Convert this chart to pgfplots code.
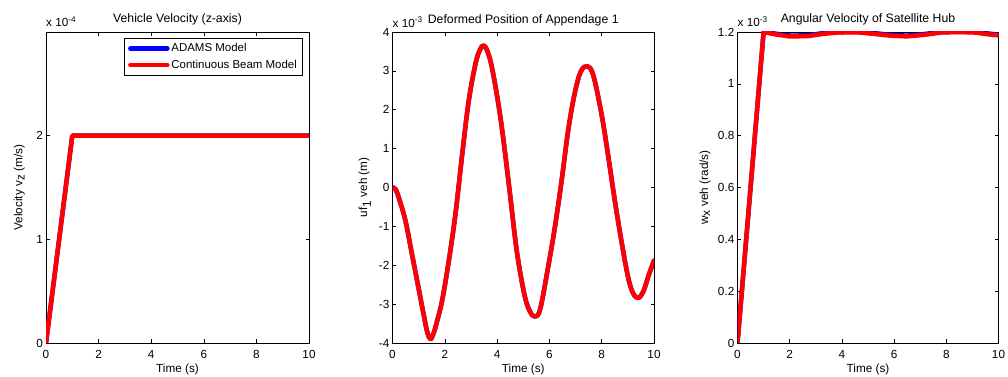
\documentclass[border=0pt]{standalone}
\usepackage{pgfplots}
\pgfplotsset{compat=1.18}
\usepackage{fontspec}
\setmainfont{Liberation Sans}

\definecolor{adamsblue}{RGB}{0,0,255}
\definecolor{beamred}{RGB}{255,0,0}

\pgfplotsset{
  every axis title shift=0pt,
  panel/.style={
    scale only axis,
    anchor=south west,
    height=311bp,
    xmin=0, xmax=10,
    xtick={0,2,4,6,8,10},
    xticklabels={0,2,4,6,8,10},
    scaled y ticks=false,
    scaled x ticks=false,
    tick align=inside,
    major tick length=3.5bp,
    axis line style={line width=0.6bp, black},
    every tick/.style={line width=0.6bp, black},
    font=\fontsize{11.8}{13}\selectfont,
    title style={at={(0.5,1)}, anchor=base, yshift=9bp, inner sep=0pt,
      font=\fontsize{12.3}{14}\selectfont},
    xlabel style={at={(0.5,0)}, anchor=base, yshift=-29bp, inner sep=0pt},
    xticklabel style={anchor=base, yshift=-15bp, inner sep=0pt},
    yticklabel style={anchor=east, inner sep=0pt, xshift=-3bp},
    xlabel={Time (s)},
    clip=true,
    clip mode=individual,
  },
  ylab shift/.style={
    every axis y label/.style={at={(0,0.5)}, xshift=#1, rotate=90,
      anchor=base, inner sep=0pt}},
  adams/.style={adamsblue, line width=4.5bp, line join=round, line cap=round},
  beam/.style={beamred, line width=4.5bp, line join=round, line cap=round},
}

\begin{document}
\begin{tikzpicture}
\useasboundingbox (0,0) rectangle (1008bp,377bp);

% ---------- Vehicle velocity ----------
\begin{axis}[panel,
  at={(46bp,34bp)}, width=263bp,
  ymin=0, ymax=3e-4,
  ytick={0,1e-4,2e-4},
  yticklabels={0,1,2},
  title={Vehicle Velocity (z-axis)},
  ylabel={Velocity v$_{\textrm{z}}$ (m/s)},
  ylab shift=-23.5bp,
  legend cell align=left,
  legend image code/.code={\draw[#1] (0bp,0bp) -- (37bp,0bp);},
  legend style={at={(1,1)}, anchor=north east, xshift=-6bp, yshift=-6bp,
    draw=black, line width=0.6bp, fill=white,
    inner xsep=4bp, inner ysep=3.5bp, row sep=3bp,
    nodes={inner sep=1.8bp},
    font=\fontsize{11.5}{13}\selectfont},
]
\addplot[adams] coordinates {(0,0) (1,2e-4) (10,2e-4)};
\addlegendentry{ADAMS Model}
\addplot[beam] coordinates {(0,0) (1,2e-4) (10,2e-4)};
\addlegendentry{Continuous Beam Model}
\node[anchor=base west, inner sep=0pt, yshift=5bp] at (rel axis cs:0,1)
  {x 10\textsuperscript{-4}};
\end{axis}

% ---------- Appendage deformation ----------
\begin{axis}[panel,
  at={(392.5bp,34bp)}, width=261.5bp,
  ymin=-4e-3, ymax=4e-3,
  ytick={-4e-3,-3e-3,-2e-3,-1e-3,0,1e-3,2e-3,3e-3,4e-3},
  yticklabels={-4,-3,-2,-1,0,1,2,3,4},
  title={Deformed Position of Appendage 1},
  ylabel={uf$_{\textrm{1}}$ veh (m)},
  ylab shift=-25.5bp,
]
\addplot[adams, smooth, tension=0.6] coordinates {
  (0,0) (0.06,-0.01e-3) (0.12,-0.05e-3) (0.23,-0.24e-3) (0.49,-0.84e-3)
  (0.74,-1.70e-3) (1.00,-2.60e-3) (1.20,-3.30e-3) (1.33,-3.72e-3)
  (1.45,-3.90e-3) (1.57,-3.75e-3) (1.70,-3.45e-3) (1.90,-2.90e-3)
  (2.15,-1.90e-3) (2.41,-0.67e-3) (2.67,0.88e-3) (2.92,2.25e-3)
  (3.18,3.20e-3) (3.35,3.55e-3) (3.48,3.65e-3) (3.62,3.52e-3)
  (3.82,3.03e-3) (4.14,1.74e-3) (4.46,0.02e-3) (4.75,-1.62e-3)
  (5.04,-2.74e-3) (5.25,-3.18e-3) (5.45,-3.32e-3) (5.65,-3.12e-3)
  (5.95,-2.05e-3) (6.21,-1.02e-3) (6.47,0.19e-3) (6.72,1.48e-3)
  (6.97,2.43e-3) (7.20,2.98e-3) (7.45,3.12e-3) (7.68,2.88e-3)
  (7.99,1.90e-3) (8.24,0.85e-3) (8.50,-0.33e-3) (8.76,-1.40e-3)
  (9.01,-2.31e-3) (9.20,-2.72e-3) (9.40,-2.84e-3) (9.60,-2.66e-3)
  (9.80,-2.25e-3) (10,-1.88e-3)
};
\addplot[beam, smooth, tension=0.6] coordinates {
  (0,0) (0.06,-0.01e-3) (0.12,-0.05e-3) (0.23,-0.24e-3) (0.49,-0.84e-3)
  (0.74,-1.70e-3) (1.00,-2.60e-3) (1.20,-3.30e-3) (1.33,-3.72e-3)
  (1.45,-3.90e-3) (1.57,-3.75e-3) (1.70,-3.45e-3) (1.90,-2.90e-3)
  (2.15,-1.90e-3) (2.41,-0.67e-3) (2.67,0.88e-3) (2.92,2.25e-3)
  (3.18,3.20e-3) (3.35,3.55e-3) (3.48,3.65e-3) (3.62,3.52e-3)
  (3.82,3.03e-3) (4.14,1.74e-3) (4.46,0.02e-3) (4.75,-1.62e-3)
  (5.04,-2.74e-3) (5.25,-3.18e-3) (5.45,-3.32e-3) (5.65,-3.12e-3)
  (5.95,-2.05e-3) (6.21,-1.02e-3) (6.47,0.19e-3) (6.72,1.48e-3)
  (6.97,2.43e-3) (7.20,2.98e-3) (7.45,3.12e-3) (7.68,2.88e-3)
  (7.99,1.90e-3) (8.24,0.85e-3) (8.50,-0.33e-3) (8.76,-1.40e-3)
  (9.01,-2.31e-3) (9.20,-2.72e-3) (9.40,-2.84e-3) (9.60,-2.66e-3)
  (9.80,-2.25e-3) (10,-1.88e-3)
};
\node[anchor=base west, inner sep=0pt, yshift=5bp] at (rel axis cs:0,1)
  {x 10\textsuperscript{-3}};
\end{axis}

% ---------- Hub angular velocity ----------
\begin{axis}[panel,
  at={(737.5bp,34bp)}, width=261bp,
  ymin=0, ymax=1.2e-3,
  ytick={0,2e-4,4e-4,6e-4,8e-4,1e-3,1.2e-3},
  yticklabels={0,0.2,0.4,0.6,0.8,1,1.2},
  title={Angular Velocity of Satellite Hub},
  ylabel={w$_{\textrm{x}}$ veh (rad/s)},
  ylab shift=-29.5bp,
]
\addplot[adams] coordinates {
  (0,0) (1,1.2e-3) (1.5,1.193e-3) (2.0,1.186e-3) (2.7,1.187e-3)
  (3.3,1.196e-3) (3.95,1.200e-3) (4.6,1.200e-3) (5.2,1.196e-3)
  (5.85,1.189e-3) (6.5,1.186e-3) (7.15,1.192e-3) (7.8,1.200e-3)
  (8.45,1.201e-3) (9.1,1.200e-3) (9.7,1.193e-3) (10,1.190e-3)
};
\addplot[beam] coordinates {
  (0,0) (1,1.2e-3) (1.5,1.190e-3) (2.0,1.183e-3) (2.7,1.184e-3)
  (3.3,1.193e-3) (3.95,1.199e-3) (4.6,1.199e-3) (5.2,1.193e-3)
  (5.85,1.186e-3) (6.5,1.183e-3) (7.15,1.189e-3) (7.8,1.198e-3)
  (8.45,1.200e-3) (9.1,1.198e-3) (9.7,1.190e-3) (10,1.187e-3)
};
\node[anchor=base west, inner sep=0pt, yshift=5bp] at (rel axis cs:0,1)
  {x 10\textsuperscript{-3}};
\end{axis}
\end{tikzpicture}
\end{document}
